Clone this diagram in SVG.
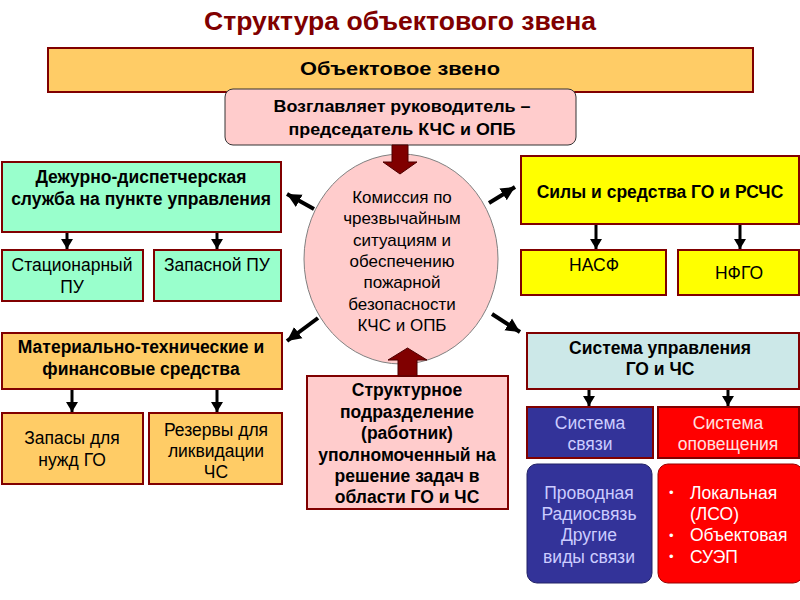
<svg xmlns="http://www.w3.org/2000/svg" width="800" height="600" viewBox="0 0 800 600">
<defs>
<style>
text{font-family:"Liberation Sans",Arial,sans-serif;text-anchor:middle;fill:#000}
.b{font-weight:bold;font-size:17.5px}
.r{font-size:17.5px}
.c{font-size:17px}
.box{stroke:#800000;stroke-width:2}
.teal{fill:#99FFCC}
.org{fill:#FFCC66}
.yel{fill:#FFFF00}
.cyan{fill:#CCE8E8}
.blue{fill:#333399}
.red{fill:#FF0000}
.pink{fill:#FFCCCC}
.lb{fill:#CCCCFF}
.wh{fill:#FFFFFF}
.arr{stroke:#000;stroke-width:3;fill:none}
.darr{stroke:#000;stroke-width:4;fill:none}
.blk{fill:#800000;stroke:#4d0000;stroke-width:1}
</style>
<marker id="ah" markerUnits="userSpaceOnUse" markerWidth="12" markerHeight="12" refX="10" refY="6" orient="auto">
<path d="M0,0 L10,6 L0,12 Z" fill="#000"/>
</marker>
<marker id="ah2" markerUnits="userSpaceOnUse" markerWidth="16" markerHeight="16" refX="14" refY="8" orient="auto">
<path d="M0,1 L14,8 L0,15 Z" fill="#000"/>
</marker>
</defs>
<rect width="800" height="600" fill="#fff"/>
<text x="400" y="30" textLength="392" lengthAdjust="spacingAndGlyphs" style="font-size:26px;font-weight:bold;fill:#800000">Структура объектового звена</text>

<g id="zveno">
<rect x="48" y="48" width="705" height="44" class="box org"/>
<text x="400" y="75" textLength="200" lengthAdjust="spacingAndGlyphs" style="font-size:19px;font-weight:bold">Объектовое звено</text>
</g>
<g id="rukovoditel">
<rect x="225" y="89" width="351" height="56" rx="8" class="pink" stroke="#333" stroke-width="1"/>
<text x="402" y="112" textLength="257" lengthAdjust="spacingAndGlyphs" style="font-size:17px;font-weight:bold">Возглавляет руководитель –</text>
<text x="402" y="135" textLength="227" lengthAdjust="spacingAndGlyphs" style="font-size:17px;font-weight:bold">председатель КЧС и ОПБ</text>
</g>
<g id="komissiya">
<ellipse cx="401" cy="259" rx="97" ry="105" class="pink" stroke="#808080" stroke-width="1"/>
<text x="402" y="203" class="c">Комиссия по</text>
<text x="402" y="224" class="c">чрезвычайным</text>
<text x="402" y="246" class="c">ситуациям и</text>
<text x="402" y="267" class="c">обеспечению</text>
<text x="402" y="288" class="c">пожарной</text>
<text x="402" y="310" class="c">безопасности</text>
<text x="402" y="331" class="c">КЧС и ОПБ</text>
</g>
<g id="dds">
<rect x="2" y="162" width="279" height="70" class="box teal"/>
<text x="141" y="183" class="b">Дежурно-диспетчерская</text>
<text x="141" y="205" class="b">служба на пункте управления</text>
</g>
<g id="stac">
<rect x="2" y="250" width="141" height="51" class="box teal"/>
<text x="72" y="271" class="r">Стационарный</text>
<text x="72" y="293" class="r">ПУ</text>
</g>
<g id="zapasnoy">
<rect x="154" y="250" width="127" height="51" class="box teal"/>
<text x="217" y="271" class="r">Запасной ПУ</text>
</g>
<g id="mts">
<rect x="2" y="333" width="280" height="56" class="box org"/>
<text x="141" y="353" class="b">Материально-технические и</text>
<text x="141" y="375" class="b">финансовые средства</text>
</g>
<g id="zapasy">
<rect x="2" y="413" width="141" height="71" class="box org"/>
<text x="72" y="444" class="r">Запасы для</text>
<text x="72" y="466" class="r">нужд ГО</text>
</g>
<g id="rezervy">
<rect x="149" y="413" width="133" height="71" class="box org"/>
<text x="216" y="436" class="r">Резервы для</text>
<text x="216" y="457" class="r">ликвидации</text>
<text x="216" y="478" class="r">ЧС</text>
</g>
<g id="struktura">
<rect x="307" y="376" width="201" height="133" class="box pink"/>
<text x="407" y="396" class="b">Структурное</text>
<text x="407" y="418" class="b">подразделение</text>
<text x="407" y="439" class="b">(работник)</text>
<text x="407" y="461" class="b">уполномоченный на</text>
<text x="407" y="482" class="b">решение задач в</text>
<text x="407" y="503" class="b">области ГО и ЧС</text>
</g>
<g id="sily">
<rect x="521" y="156" width="278" height="68" class="box yel"/>
<text x="660" y="198" class="b">Силы и средства ГО и РСЧС</text>
</g>
<g id="nasf">
<rect x="521" y="250" width="145" height="45" class="box yel"/>
<text x="594" y="271" class="r">НАСФ</text>
</g>
<g id="nfgo">
<rect x="678" y="250" width="121" height="45" class="box yel"/>
<text x="739" y="279" class="r">НФГО</text>
</g>
<g id="sistema">
<rect x="527" y="333" width="272" height="56" class="box cyan"/>
<text x="660" y="354" class="b">Система управления</text>
<text x="660" y="375" class="b">ГО и ЧС</text>
</g>
<g id="svyaz">
<rect x="527" y="407" width="126" height="51" class="box blue"/>
<text x="590" y="429" class="r lb">Система</text>
<text x="590" y="450" class="r lb">связи</text>
</g>
<g id="opoveshenie">
<rect x="658" y="407" width="141" height="51" class="box red"/>
<text x="728" y="429" class="r" style="fill:#FFE0E0">Система</text>
<text x="728" y="450" class="r" style="fill:#FFE0E0">оповещения</text>
</g>
<g id="vidy">
<rect x="527" y="464" width="125" height="119" rx="10" class="blue" stroke="#222266" stroke-width="1"/>
<text x="589" y="499" class="r lb">Проводная</text>
<text x="589" y="520" class="r lb">Радиосвязь</text>
<text x="589" y="541" class="r lb">Другие</text>
<text x="589" y="563" class="r lb">виды связи</text>
</g>
<g id="vidy-opov">
<rect x="658" y="464" width="145" height="119" rx="10" class="red" stroke="#990000" stroke-width="1"/>
<text x="669" y="497" class="wh" style="text-anchor:start;font-size:13px">•</text>
<text x="690" y="499" class="r wh" style="text-anchor:start">Локальная</text>
<text x="690" y="520" class="r wh" style="text-anchor:start">(ЛСО)</text>
<text x="669" y="540" class="wh" style="text-anchor:start;font-size:13px">•</text>
<text x="690" y="541" class="r wh" style="text-anchor:start">Объектовая</text>
<text x="669" y="561" class="wh" style="text-anchor:start;font-size:13px">•</text>
<text x="690" y="563" class="r wh" style="text-anchor:start">СУЭП</text>
</g>

<g id="connectors">
<polygon class="blk" points="392,145 408,145 408,162 417,162 400,174 383,162 392,162"/>
<polygon class="blk" points="398,376 417,376 417,360 427,360 407.5,348 388,360 398,360"/>
<line class="darr" x1="314" y1="209" x2="287" y2="194" marker-end="url(#ah2)"/>
<line class="darr" x1="318" y1="318" x2="287" y2="341" marker-end="url(#ah2)"/>
<line class="darr" x1="489" y1="203" x2="515" y2="187" marker-end="url(#ah2)"/>
<line class="darr" x1="492" y1="314" x2="520" y2="332" marker-end="url(#ah2)"/>
<line class="arr" x1="67" y1="233" x2="67" y2="249" marker-end="url(#ah)"/>
<line class="arr" x1="217" y1="233" x2="217" y2="249" marker-end="url(#ah)"/>
<line class="arr" x1="72" y1="390" x2="72" y2="412" marker-end="url(#ah)"/>
<line class="arr" x1="217" y1="390" x2="217" y2="412" marker-end="url(#ah)"/>
<line class="arr" x1="596" y1="225" x2="596" y2="249" marker-end="url(#ah)"/>
<line class="arr" x1="740" y1="225" x2="740" y2="249" marker-end="url(#ah)"/>
<line class="arr" x1="589" y1="390" x2="589" y2="406" marker-end="url(#ah)"/>
<line class="arr" x1="728" y1="390" x2="728" y2="406" marker-end="url(#ah)"/>
</g>
</svg>
